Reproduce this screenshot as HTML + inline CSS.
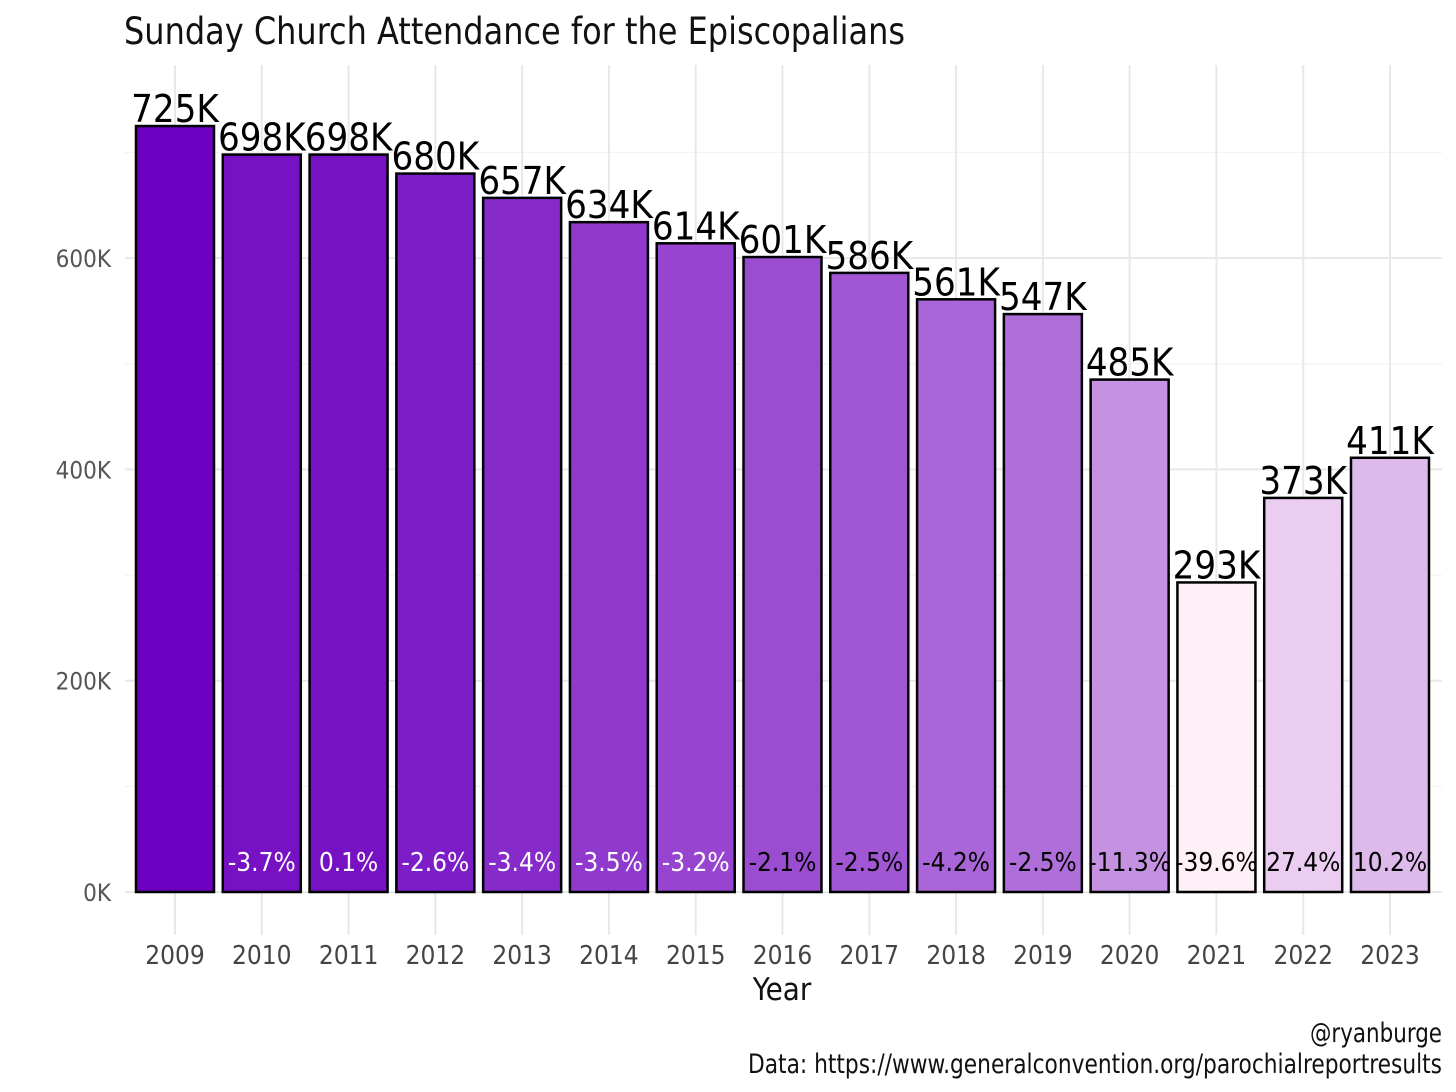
<!DOCTYPE html>
<html><head><meta charset="utf-8">
<style>
html,body{margin:0;padding:0;background:#fff;}
svg{display:block;}
text{font-family:"Liberation Sans Narrow","DejaVu Sans Condensed","Liberation Sans",sans-serif;}
</style></head>
<body>
<svg id="chart" width="1456" height="1092" viewBox="0 0 1456 1092" xmlns="http://www.w3.org/2000/svg">
<text x="124" y="44" font-size="37" fill="#111" textLength="781" lengthAdjust="spacingAndGlyphs">Sunday Church Attendance for the Episcopalians</text>
<g id="grid"></g>
<g id="bars"></g>
<g id="labels"></g>
<g id="axes"></g>
<text x="782" y="1000" font-size="31" text-anchor="middle" fill="#111">Year</text>
<text x="1310" y="1042" font-size="27" fill="#111" textLength="132" lengthAdjust="spacingAndGlyphs">@ryanburge</text>
<text x="748" y="1073" font-size="27" fill="#111" textLength="694" lengthAdjust="spacingAndGlyphs">Data: https://www.generalconvention.org/parochialreportresults</text>
</svg>
<script>
const years = ["2009","2010","2011","2012","2013","2014","2015","2016","2017","2018","2019","2020","2021","2022","2023"];
const attendance = [725,698,698,680,657,634,614,601,586,561,547,485,293,373,411];
const pctChange = ["","-3.7%","0.1%","-2.6%","-3.4%","-3.5%","-3.2%","-2.1%","-2.5%","-4.2%","-2.5%","-11.3%","-39.6%","27.4%","10.2%"];
const yTicks = [0,200,400,600];
const yMinor = [100,300,500,700];

const NS="http://www.w3.org/2000/svg";
const y0=892, pxPerK=211.3/200;
const yScale=v=>y0-v*pxPerK;
const x0=175, step=(1390-175)/14, bw=78;
const xScale=i=>x0+i*step;
const panelL=125, panelR=1442, panelT=65, panelB=935;
const vmin=Math.min(...attendance), vmax=Math.max(...attendance);
function color(v){
  const t=Math.pow((v-vmin)/(vmax-vmin),1.15);
  const lo=[255,240,248], hi=[108,0,192];
  const c=lo.map((l,k)=>Math.round(l+(hi[k]-l)*t));
  return `rgb(${c[0]},${c[1]},${c[2]})`;
}
function mk(tag,attrs,parent){const e=document.createElementNS(NS,tag);for(const k in attrs)e.setAttribute(k,attrs[k]);parent.appendChild(e);return e;}
const grid=document.getElementById('grid'), bars=document.getElementById('bars'), labels=document.getElementById('labels'), axes=document.getElementById('axes');

yMinor.forEach(v=>{
  const l=mk('line',{x1:panelL,x2:panelR,y1:yScale(v),y2:yScale(v),stroke:'#f2f2f2','stroke-width':1.2},grid);
  
  
});
yTicks.forEach(v=>{
  const l=mk('line',{x1:panelL,x2:panelR,y1:yScale(v),y2:yScale(v),stroke:'#e8e8e8','stroke-width':2},grid);
  
  
  const t=mk('text',{x:111,y:yScale(v)+9,'font-size':24,'text-anchor':'end',fill:'#555'},axes);
  t.textContent=v+'K';
  
  
});
years.forEach((yr,i)=>{
  const l=mk('line',{x1:xScale(i),x2:xScale(i),y1:panelT,y2:panelB,stroke:'#e8e8e8','stroke-width':2},grid);
  
  
  const t=mk('text',{x:xScale(i),y:964,'font-size':26,'text-anchor':'middle',fill:'#444'},axes);
  t.textContent=yr;
  
  
});
attendance.forEach((v,i)=>{
  const r=mk('rect',{x:xScale(i)-bw/2,y:yScale(v),width:bw,height:y0-yScale(v),fill:color(v),stroke:'#000','stroke-width':2.5},bars);
  
  
  const t=mk('text',{x:xScale(i),y:yScale(v)-4,'font-size':38,'text-anchor':'middle',fill:'#000'},labels);
  t.textContent=v+'K';
  
  
  if(pctChange[i]){
    const p=mk('text',{x:xScale(i),y:871,'font-size':26,'text-anchor':'middle',fill:v>605?'#fff':'#000'},labels);
    p.textContent=pctChange[i];
    
    
  }
});
</script>
</body></html>
